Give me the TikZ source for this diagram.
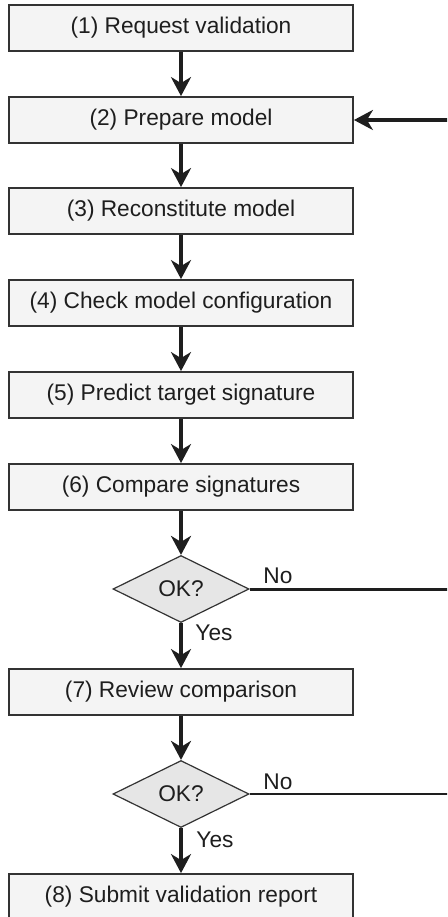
\documentclass[tikz,border=0pt]{standalone}
\usepackage{fontspec}
\setmainfont{Liberation Sans}
\usetikzlibrary{shapes.geometric,arrows.meta}
\definecolor{boxfill}{HTML}{F4F4F4}
\definecolor{dmdfill}{HTML}{E6E6E6}
\definecolor{edge}{HTML}{333333}
\definecolor{ink}{HTML}{1E1E1E}
\tikzset{
  stepbox/.style={draw=edge, line width=1.8pt, fill=boxfill, minimum width=344pt, minimum height=46pt, inner sep=0pt, text=ink, font=\fontsize{22.7}{26}\selectfont},
  decision/.style={diamond, draw=edge, line width=1.2pt, fill=dmdfill, minimum width=136pt, minimum height=67pt, inner sep=0pt, text=ink, font=\fontsize{22.7}{26}\selectfont},
  flow/.style={draw=ink, line width=3.5pt, -{Stealth[length=19pt, width=20pt, inset=6pt]}},
  lbl/.style={text=ink, font=\fontsize{22.7}{26}\selectfont, inner sep=0pt}
}
\begin{document}
\begin{tikzpicture}[x=1pt, y=-1pt]
\clip (0,0) rectangle (447,917);
\fill[white] (0,0) rectangle (447,917);
\node[stepbox] (b1) at (181,28) {(1) Request validation};
\node[stepbox] (b2) at (181,120) {(2) Prepare model};
\node[stepbox] (b3) at (181,211) {(3) Reconstitute model};
\node[stepbox] (b4) at (181,303) {(4) Check model configuration};
\node[stepbox] (b5) at (181,395) {(5) Predict target signature};
\node[stepbox] (b6) at (181,487) {(6) Compare signatures};
\node[decision] (d1) at (181,589) {OK?};
\node[stepbox] (b7) at (181,692) {(7) Review comparison};
\node[decision] (d2) at (181,794) {OK?};
\node[stepbox] (b8) at (181,897) {(8) Submit validation report};
\coordinate (r0) at (449,120);
\coordinate (r1) at (449,589);
\coordinate (r2) at (449,794);
\draw[flow] (b1) -- (b2);
\draw[flow] (b2) -- (b3);
\draw[flow] (b3) -- (b4);
\draw[flow] (b4) -- (b5);
\draw[flow] (b5) -- (b6);
\draw[flow] (b6) -- (d1);
\draw[flow] (d1) -- (b7);
\draw[flow] (b7) -- (d2);
\draw[flow] (d2) -- (b8);
\draw[flow] (r0) -- (b2.east);
\draw[draw=ink, line width=3pt] (d1.east) -- (r1);
\draw[draw=ink, line width=1.8pt] (d2.east) -- (r2);
\node[lbl] at (278,576) {No};
\node[lbl] at (214,633) {Yes};
\node[lbl] at (278,782) {No};
\node[lbl] at (215,840) {Yes};
\end{tikzpicture}
\end{document}
